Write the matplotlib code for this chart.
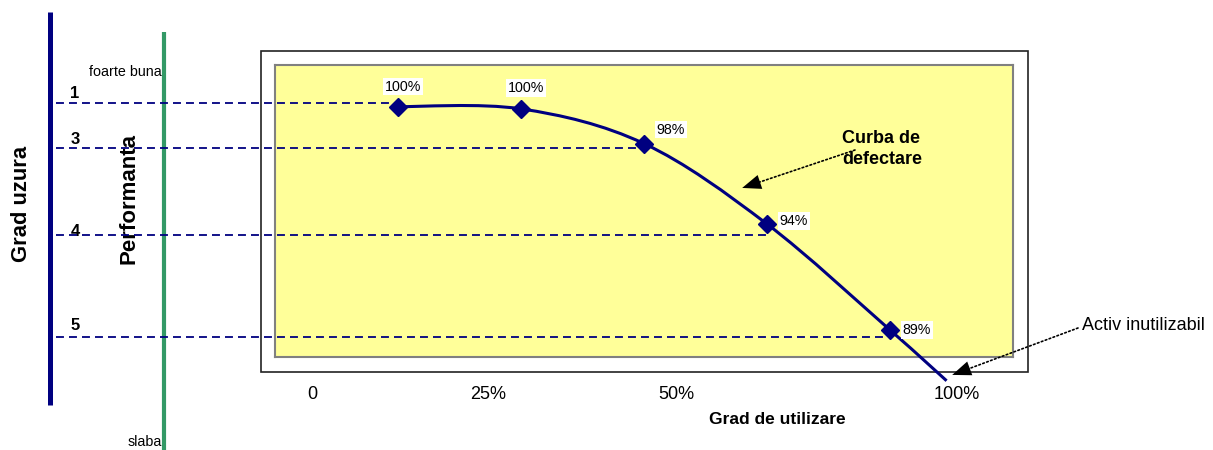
import matplotlib.pyplot as plt
from matplotlib.path import Path
from matplotlib.patches import PathPatch, Rectangle

plt.rcParams['font.family'] = ['Liberation Sans', 'DejaVu Sans']

# failure curve: usage category on x, performance (%) on y
usage_idx = [1, 2, 3, 4, 5]
performance = [100.0, 99.89, 98.18, 94.22, 89.0]
point_labels = ['100%', '100%', '98%', '94%', '89%']
# the curve runs past the last marker down to the "unusable" point
end_idx = 5.46
end_perf = 86.5

# wear grades and the performance level each one marks
wear_grades = ['1', '3', '4', '5']
wear_levels = [100.17, 97.96, 93.7, 88.67]
wear_idx = [1, 3, 4, 5]

usage_ticks = ['0', '25%', '50%', '100%']

NAVY = '#000080'
W, H = 1213, 450

fig = plt.figure(figsize=(W / 100, H / 100), dpi=100)

# background layer in pixel coordinates (frames, bars, side titles)
bg = fig.add_axes([0, 0, 1, 1])
bg.set_xlim(0, W)
bg.set_ylim(H, 0)
bg.axis('off')

bg.add_patch(Rectangle((261, 51), 767, 321, fc='white', ec='#222222', lw=1.2))
bg.plot([50, 50], [12, 405], color=NAVY, lw=3.6, solid_capstyle='butt')
bg.plot([164, 164], [32, 450], color='#339966', lw=3.0, solid_capstyle='butt')

bg.text(22, 204, 'Grad uzura', rotation=90, ha='center', va='center',
        fontsize=15.8, fontweight='bold')
bg.text(128.5, 198, 'Performanta', rotation=90, ha='center', va='center',
        fontsize=16, fontweight='bold')
bg.text(162, 72, 'foarte buna', ha='right', va='center', fontsize=10.3)
bg.text(162, 442, 'slaba', ha='right', va='center', fontsize=10.3)

grade_label_y = [93, 140, 232, 325]
for g, gy in zip(wear_grades, grade_label_y):
    bg.text(75, gy, g, ha='center', va='center', fontsize=12, fontweight='bold')

bg.text(777, 419, 'Grad de utilizare', ha='center', va='center',
        fontsize=12.5, fontweight='bold')

# plot area (yellow)
ax = fig.add_axes([275 / W, 1 - 357 / H, (1013 - 275) / W, (357 - 65) / H])
ax.set_zorder(1)
ax.set_facecolor('#FFFF99')
ax.set_xlim(0, 6)
ax.set_ylim(87.67, 102.05)
for s in ax.spines.values():
    s.set_color('#808080')
    s.set_linewidth(1.5)
ax.set_yticks([])
ax.set_xticks([0.30, 1.73, 3.26, 5.545], usage_ticks)
ax.tick_params(axis='x', length=0, pad=21, labelsize=13)

# dashed wear-grade lines, starting left of the plot area
x_start = ax.transData.inverted().transform(bg.transData.transform((56, 0)))[0]
ax.hlines(wear_levels, x_start, wear_idx, colors=NAVY, lw=1.3,
          linestyles=[(0, (4.4, 2.8))], clip_on=False, zorder=2)

# smoothed curve (Catmull-Rom as cubic Bezier segments)
px = usage_idx + [end_idx]
py = performance + [end_perf]
pts = list(zip(px, py))
verts = [pts[0]]
codes = [Path.MOVETO]
for i in range(len(pts) - 1):
    p0 = pts[i - 1] if i > 0 else pts[i]
    p1 = pts[i]
    p2 = pts[i + 1]
    p3 = pts[i + 2] if i + 2 < len(pts) else pts[i + 1]
    c1 = (p1[0] + (p2[0] - p0[0]) / 6, p1[1] + (p2[1] - p0[1]) / 6)
    c2 = (p2[0] - (p3[0] - p1[0]) / 6, p2[1] - (p3[1] - p1[1]) / 6)
    verts += [c1, c2, p2]
    codes += [Path.CURVE4] * 3
ax.add_patch(PathPatch(Path(verts, codes), fc='none', ec=NAVY, lw=2.2,
                       clip_on=False, zorder=3))
ax.plot(usage_idx, performance, ls='none', marker='D', ms=9.5, color=NAVY,
        clip_on=False, zorder=4)

label_offsets = [(3.6, 14.4), (3.6, 15.1), (19.4, 10.1), (19.4, 2.2), (19.4, 0)]
for x, y, lab, off in zip(usage_idx, performance, point_labels, label_offsets):
    ax.annotate(lab, (x, y), xytext=off, textcoords='offset points',
                ha='center', va='center', fontsize=10.3, zorder=5,
                bbox=dict(fc='white', ec='none', pad=1.2))

# dotted leader lines with solid filled heads
def pointer(tail, head):
    ax.annotate('', xy=head, xytext=tail, xycoords=bg.transData,
                textcoords=bg.transData, annotation_clip=False,
                arrowprops=dict(arrowstyle='-', ls=(0, (1, 1.5)), lw=1.2,
                                color='black', shrinkA=0, shrinkB=8))
    ax.annotate('', xy=head, xytext=tail, xycoords=bg.transData,
                textcoords=bg.transData, annotation_clip=False,
                arrowprops=dict(arrowstyle='-|>,head_length=0.9,head_width=0.35',
                                lw=0.1, color='black', mutation_scale=15,
                                shrinkA=0, shrinkB=0,
                                linestyle='none'))

pointer((855, 150), (742, 188))
ax.text(842, 149, 'Curba de\ndefectare', transform=bg.transData, ha='left',
        va='center', fontsize=13, fontweight='bold', linespacing=1.35)
pointer((1078, 328), (952, 375))
ax.text(1082, 325, 'Activ inutilizabil', transform=bg.transData, ha='left',
        va='center', fontsize=13)

fig.savefig('out.png', dpi=100)
